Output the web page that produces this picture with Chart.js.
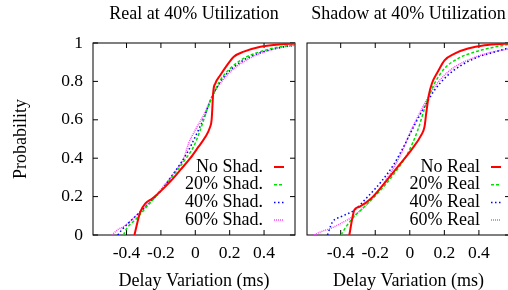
<!DOCTYPE html>
<html>
<head>
<meta charset="utf-8">
<script src="https://cdn.jsdelivr.net/npm/chart.js@4"></script>
<style>
html, body { margin: 0; padding: 0; background: #fff; overflow: hidden; width: 508px; height: 290px; }
#real { position: absolute; left: 0; top: 0; }
#shadow { position: absolute; left: 300px; top: 0; }
</style>
</head>
<body>
<canvas id="real" width="300" height="290"></canvas>
<canvas id="shadow" width="210" height="290"></canvas>
<script>
// CDF curves (x = delay variation in ms, y = probability)

// left panel: real traffic at 40% utilization
const realLabels = ["No Shad.", "20% Shad.", "40% Shad.", "60% Shad."];
const realNoX = [-0.354, -0.32, -0.29, -0.25, -0.204, -0.146, -0.087, -0.029, 0.019, 0.058, 0.085, 0.095, 0.105, 0.117, 0.146, 0.185, 0.224, 0.282, 0.379, 0.496, 0.58];
const realNoY = [0, 0.12, 0.165, 0.19, 0.226, 0.278, 0.339, 0.40, 0.46, 0.51, 0.56, 0.60, 0.75, 0.79, 0.833, 0.885, 0.929, 0.955, 0.981, 0.993, 0.998];
const real20X = [-0.418, -0.398, -0.34, -0.282, -0.204, -0.126, -0.068, -0.01, 0.029, 0.068, 0.107, 0.146, 0.204, 0.282, 0.379, 0.496, 0.58];
const real20Y = [0, 0.035, 0.087, 0.148, 0.226, 0.312, 0.382, 0.46, 0.547, 0.651, 0.738, 0.807, 0.868, 0.92, 0.955, 0.981, 0.99];
const real40X = [-0.451, -0.428, -0.36, -0.282, -0.204, -0.126, -0.049, 0, 0.049, 0.097, 0.146, 0.204, 0.282, 0.379, 0.496, 0.58];
const real40Y = [0, 0.026, 0.087, 0.153, 0.226, 0.321, 0.425, 0.512, 0.608, 0.72, 0.799, 0.859, 0.911, 0.95, 0.977, 0.99];
const real60X = [-0.486, -0.447, -0.418, -0.36, -0.282, -0.204, -0.126, -0.068, -0.039, 0, 0.049, 0.097, 0.146, 0.204, 0.282, 0.379, 0.496, 0.58];
const real60Y = [0, 0.03, 0.043, 0.087, 0.156, 0.234, 0.321, 0.399, 0.477, 0.547, 0.625, 0.72, 0.79, 0.85, 0.903, 0.946, 0.976, 0.988];

// right panel: shadow traffic at 40% utilization
const shadowLabels = ["No Real", "20% Real", "40% Real", "60% Real"];
const shadNoX = [-0.35, -0.331, -0.321, -0.292, -0.224, -0.147, -0.07, 0.008, 0.066, 0.085, 0.095, 0.11, 0.128, 0.162, 0.201, 0.259, 0.337, 0.433, 0.569];
const shadNoY = [0, 0.095, 0.13, 0.147, 0.19, 0.269, 0.355, 0.442, 0.52, 0.563, 0.633, 0.728, 0.789, 0.85, 0.91, 0.945, 0.971, 0.988, 0.997];
const shad20X = [-0.398, -0.369, -0.331, -0.263, -0.186, -0.089, -0.012, 0.046, 0.095, 0.143, 0.201, 0.279, 0.375, 0.491, 0.578];
const shad20Y = [0, 0.043, 0.087, 0.147, 0.217, 0.321, 0.425, 0.546, 0.685, 0.789, 0.867, 0.919, 0.953, 0.979, 0.993];
const shad40X = [-0.476, -0.46, -0.447, -0.398, -0.321, -0.244, -0.166, -0.089, -0.031, 0.027, 0.085, 0.143, 0.22, 0.298, 0.395, 0.491, 0.578];
const shad40Y = [0, 0.043, 0.069, 0.095, 0.13, 0.199, 0.277, 0.373, 0.468, 0.572, 0.667, 0.754, 0.832, 0.884, 0.927, 0.953, 0.976];
const shad60X = [-0.553, -0.515, -0.456, -0.398, -0.331, -0.263, -0.186, -0.108, -0.05, 0.008, 0.066, 0.124, 0.182, 0.259, 0.356, 0.453, 0.578];
const shad60Y = [0, 0.017, 0.035, 0.061, 0.095, 0.147, 0.225, 0.329, 0.425, 0.546, 0.65, 0.745, 0.815, 0.875, 0.918, 0.948, 0.97];

const styles = [
    { color: "#ff0000", width: 2, dash: [] },
    { color: "#00e000", width: 1.5, dash: [3, 2] },
    { color: "#0000ff", width: 1.5, dash: [1.5, 2.5] },
    { color: "#ff44ff", width: 1.5, dash: [1, 1] }
];

Chart.defaults.font.family = '"Liberation Serif", "Times New Roman", serif';
Chart.defaults.color = "#000";

function toPoints(xs, ys) {
    return xs.map((x, i) => ({ x: x, y: ys[i] }));
}

function tickText(value) {
    return String(Number(value.toFixed(1)));
}

// box around the plot with inward tick marks
const framePlugin = {
    id: "frame",
    beforeDatasetsDraw(chart, args, opts) {
        const { ctx, chartArea: a } = chart;
        const x = chart.scales.x, y = chart.scales.y;
        ctx.save();
        ctx.strokeStyle = "#000";
        ctx.lineWidth = 1;
        ctx.strokeRect(a.left, a.top, a.right - a.left, a.bottom - a.top);
        ctx.beginPath();
        x.ticks.forEach(t => {
            const px = x.getPixelForValue(t.value);
            ctx.moveTo(px, a.bottom); ctx.lineTo(px, a.bottom - 5);
            ctx.moveTo(px, a.top); ctx.lineTo(px, a.top + 5);
        });
        y.ticks.forEach(t => {
            const py = y.getPixelForValue(t.value);
            if (opts.leftTicks) { ctx.moveTo(a.left, py); ctx.lineTo(a.left + 5, py); }
            ctx.moveTo(a.right, py); ctx.lineTo(a.right - 5, py);
        });
        ctx.stroke();
        ctx.restore();
    }
};

// gnuplot style key: right aligned text, sample line after it
const keyPlugin = {
    id: "key",
    afterDatasetsDraw(chart, args, opts) {
        const { ctx, chartArea: a } = chart;
        ctx.save();
        ctx.font = '18px "Liberation Serif", "Times New Roman", serif';
        ctx.textAlign = "right";
        ctx.textBaseline = "middle";
        ctx.fillStyle = "#000";
        chart.data.datasets.forEach((ds, i) => {
            const yy = a.bottom - 68 + i * 17.7;
            const tx = a.right - opts.inset;
            ctx.fillText(ds.label, tx, yy);
            ctx.strokeStyle = ds.borderColor;
            ctx.lineWidth = ds.borderWidth;
            ctx.setLineDash(ds.borderDash);
            ctx.beginPath();
            ctx.moveTo(tx + 11, yy);
            ctx.lineTo(tx + 21, yy);
            ctx.stroke();
        });
        ctx.restore();
    }
};

function makeChart(id, title, labels, series, showY) {
    const ctx = document.getElementById(id).getContext("2d");
    return new Chart(ctx, {
        type: "line",
        data: {
            datasets: series.map((s, i) => ({
                label: labels[i],
                data: toPoints(s[0], s[1]),
                borderColor: styles[i].color,
                borderWidth: styles[i].width,
                borderDash: styles[i].dash,
                pointRadius: 0,
                fill: false,
                cubicInterpolationMode: "monotone"
            }))
        },
        options: {
            responsive: false,
            animation: false,
            layout: { padding: showY ? { left: 0, right: 5, top: 0, bottom: 0 } : { left: 7, right: 0, top: 0, bottom: 0 } },
            scales: {
                x: {
                    type: "linear",
                    min: -0.595,
                    max: 0.58,
                    grid: { display: false, drawTicks: false },
                    border: { display: false },
                    ticks: { stepSize: 0.2, includeBounds: false, padding: 8, font: { size: 17.5 }, maxRotation: 0, callback: tickText },
                    title: { display: true, text: "Delay Variation (ms)", font: { size: 18, lineHeight: 1 }, padding: { top: 0, bottom: 0 } },
                    afterFit(scale) { scale.height = 55; }
                },
                y: {
                    type: "linear",
                    display: showY,
                    min: 0,
                    max: 1,
                    grid: { display: false, drawTicks: false },
                    border: { display: false },
                    ticks: { stepSize: 0.2, padding: 10, font: { size: 17.5 }, callback: tickText },
                    title: { display: true, text: "Probability", font: { size: 18, lineHeight: 1 }, padding: { top: 12, bottom: 0 } },
                    afterFit(scale) { scale.width = showY ? 93 : 0; }
                }
            },
            plugins: {
                legend: { display: false },
                tooltip: { enabled: false },
                title: {
                    display: true,
                    text: title,
                    fullSize: false,
                    font: { size: 18, weight: "normal" },
                    padding: { top: 3, bottom: 18.4 }
                },
                frame: { leftTicks: showY },
                key: { inset: showY ? 32 : 30 }
            }
        },
        plugins: [framePlugin, keyPlugin]
    });
}

makeChart("real", "Real at 40% Utilization", realLabels,
    [[realNoX, realNoY], [real20X, real20Y], [real40X, real40Y], [real60X, real60Y]], true);
makeChart("shadow", "Shadow at 40% Utilization", shadowLabels,
    [[shadNoX, shadNoY], [shad20X, shad20Y], [shad40X, shad40Y], [shad60X, shad60Y]], false);
</script>
</body>
</html>
